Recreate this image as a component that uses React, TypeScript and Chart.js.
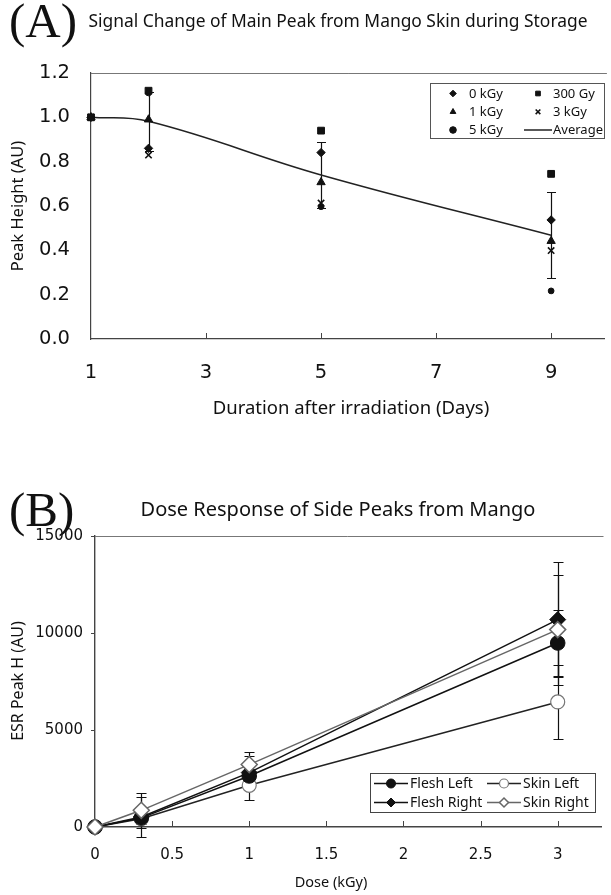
import React, { useEffect, useRef } from "react";
import { Chart, registerables } from "chart.js";
Chart.register(...registerables);

// ---------- Panel A data ----------
const daysA = [1, 2, 5, 9];
const dose0kGy = [1.0, 0.86, 0.841, 0.537];
const dose300Gy = [1.0, 1.12, 0.94, 0.745];
const dose1kGy = [1.0, 0.99, 0.707, 0.442];
const dose3kGy = [1.0, 0.83, 0.613, 0.399];
const dose5kGy = [1.0, 1.11, 0.597, 0.217];
const averageA = [1.0, 0.982, 0.74, 0.468];
const averageErrA = [0, 0.133, 0.148, 0.195];
const xTicksA = [1, 3, 5, 7, 9];
const yTicksA = [0, 0.2, 0.4, 0.6, 0.8, 1.0, 1.2];

// ---------- Panel B data ----------
const dosesB = [0, 0.3, 1, 3];
const fleshLeft = [0, 470, 2630, 9485];
const fleshLeftErr = [0, 200, 300, 1720];
const skinLeft = [0, 430, 2150, 6445];
const skinLeftErr = [0, 250, 740, 1888];
const fleshRight = [0, 515, 2805, 10690];
const fleshRightErr = [0, 1030, 840, 2970];
const skinRight = [0, 860, 3217, 10175];
const skinRightErr = [0, 890, 650, 2835];
const xTicksB = [0, 0.5, 1, 1.5, 2, 2.5, 3];
const yTicksB = [0, 5000, 10000, 15000];

const SANS = '"Noto Sans", sans-serif';
const NUM = '"DejaVu Sans", sans-serif';
const SERIF = '"Liberation Serif", "Times New Roman", serif';

const pts = (xs: number[], ys: number[]) => xs.map((x, i) => ({ x, y: ys[i] }));

type Txt = { text: string; x: number; y: number; font: string; align?: CanvasTextAlign; rot?: number; color?: string };

function textPlugin(items: Txt[]) {
  return {
    id: "texts",
    afterDraw(chart: any) {
      const ctx = chart.ctx;
      for (const t of items) {
        ctx.save();
        ctx.translate(t.x, t.y);
        if (t.rot) ctx.rotate(t.rot);
        ctx.font = t.font;
        ctx.fillStyle = t.color || "#111";
        ctx.textAlign = t.align || "center";
        ctx.textBaseline = "middle";
        ctx.fillText(t.text, 0, 0);
        ctx.restore();
      }
    },
  };
}

function framePlugin(o: { xTicks: number[]; xLen: number; yTicks: number[]; yLen: number; color: string; width: number; topColor: string }) {
  return {
    id: "frame",
    afterDraw(chart: any) {
      const { ctx, chartArea: a, scales } = chart;
      ctx.save();
      ctx.lineWidth = o.width;
      ctx.strokeStyle = o.topColor;
      ctx.beginPath();
      ctx.moveTo(a.left - o.yLen, Math.round(a.top) + 0.5);
      ctx.lineTo(a.right + 2, Math.round(a.top) + 0.5);
      ctx.stroke();
      ctx.strokeStyle = o.color;
      ctx.beginPath();
      for (const v of o.xTicks) {
        const px = Math.round(scales.x.getPixelForValue(v)) + 0.5;
        ctx.moveTo(px, a.bottom);
        ctx.lineTo(px, a.bottom - o.xLen);
      }
      for (const v of o.yTicks) {
        const py = Math.round(scales.y.getPixelForValue(v)) + 0.5;
        ctx.moveTo(a.left, py);
        ctx.lineTo(a.left - o.yLen, py);
      }
      ctx.stroke();
      ctx.restore();
    },
  };
}

function errorBarPlugin(bars: { index: number; errors: number[]; color: string; width: number; cap: number }[]) {
  return {
    id: "errbars",
    beforeDatasetsDraw(chart: any) {
      const ctx = chart.ctx;
      const ys = chart.scales.y;
      for (const b of bars) {
        const meta = chart.getDatasetMeta(b.index);
        const data = chart.data.datasets[b.index].data as any[];
        ctx.save();
        ctx.strokeStyle = b.color;
        ctx.lineWidth = b.width;
        ctx.beginPath();
        data.forEach((d, i) => {
          const e = b.errors[i];
          if (!e) return;
          const x = Math.round(meta.data[i].x) + 0.5;
          const t = Math.round(ys.getPixelForValue(d.y + e)) + 0.5;
          const bt = Math.round(ys.getPixelForValue(d.y - e)) + 0.5;
          ctx.moveTo(x, t);
          ctx.lineTo(x, bt);
          ctx.moveTo(x - b.cap, t);
          ctx.lineTo(x + b.cap, t);
          ctx.moveTo(x - b.cap, bt);
          ctx.lineTo(x + b.cap, bt);
        });
        ctx.stroke();
        ctx.restore();
      }
    },
  };
}

function drawMarker(ctx: CanvasRenderingContext2D, style: string, x: number, y: number, r: number, fill: string, stroke: string, lw: number) {
  ctx.save();
  ctx.fillStyle = fill;
  ctx.strokeStyle = stroke;
  ctx.lineWidth = lw;
  ctx.beginPath();
  if (style === "circle") {
    ctx.arc(x, y, r, 0, Math.PI * 2);
  } else if (style === "rectRot") {
    ctx.moveTo(x - r, y);
    ctx.lineTo(x, y - r);
    ctx.lineTo(x + r, y);
    ctx.lineTo(x, y + r);
    ctx.closePath();
  } else if (style === "rect") {
    const s = r * Math.SQRT1_2;
    ctx.rect(x - s, y - s, 2 * s, 2 * s);
  } else if (style === "triangle") {
    for (let k = 0; k < 3; k++) {
      const ang = (k * 2 * Math.PI) / 3;
      const px = x + Math.sin(ang) * r;
      const py = y - Math.cos(ang) * r;
      if (k === 0) ctx.moveTo(px, py);
      else ctx.lineTo(px, py);
    }
    ctx.closePath();
  } else if (style === "crossRot") {
    const s = r * Math.SQRT1_2;
    ctx.moveTo(x - s, y - s);
    ctx.lineTo(x + s, y + s);
    ctx.moveTo(x + s, y - s);
    ctx.lineTo(x - s, y + s);
    ctx.stroke();
    ctx.restore();
    return;
  }
  ctx.fill();
  if (lw > 0) ctx.stroke();
  ctx.restore();
}

function legendPlugin(o: {
  box: [number, number, number, number];
  order: number[];
  cols: number;
  rows: number[];
  markerX: number[];
  textX: number[];
  lineHalf: number;
  radius: number;
  font: string;
  boxColor: string;
}) {
  return {
    id: "boxLegend",
    afterDraw(chart: any) {
      const ctx = chart.ctx;
      ctx.save();
      ctx.fillStyle = "#fff";
      ctx.fillRect(o.box[0], o.box[1], o.box[2], o.box[3]);
      ctx.strokeStyle = o.boxColor;
      ctx.lineWidth = 1;
      ctx.strokeRect(o.box[0] + 0.5, o.box[1] + 0.5, o.box[2], o.box[3]);
      o.order.forEach((di, k) => {
        const ds: any = chart.data.datasets[di];
        const row = Math.floor(k / o.cols);
        const col = k % o.cols;
        const y = o.rows[row];
        const mx = o.markerX[col];
        if (ds.showLine !== false) {
          ctx.strokeStyle = ds.borderColor;
          ctx.lineWidth = ds.borderWidth || 1;
          ctx.beginPath();
          ctx.moveTo(mx - o.lineHalf, y);
          ctx.lineTo(mx + o.lineHalf, y);
          ctx.stroke();
        }
        if (ds.pointRadius > 0) {
          drawMarker(ctx, ds.pointStyle, mx, y, o.radius, ds.pointBackgroundColor, ds.pointBorderColor, ds.pointBorderWidth);
        }
        ctx.fillStyle = "#111";
        ctx.font = o.font;
        ctx.textAlign = "left";
        ctx.textBaseline = "middle";
        ctx.fillText(ds.label, o.textX[col], y + 0.5);
      });
      ctx.restore();
    },
  };
}

function markerSet(label: string, data: number[], style: string, r: number, bw = 1, order = 1) {
  return {
    label,
    data: pts(daysA, data),
    showLine: false,
    pointStyle: style,
    pointRadius: r,
    pointBackgroundColor: "#111",
    pointBorderColor: "#111",
    pointBorderWidth: bw,
    borderColor: "#111",
    clip: false,
    order,
  };
}

function ChartA() {
  const ref = useRef<HTMLCanvasElement>(null);
  useEffect(() => {
    const H = 440;
    const tickFont = { family: NUM, size: 19.5 };
    const chart = new Chart(ref.current!, {
      type: "line",
      data: {
        datasets: [
          markerSet("0 kGy", dose0kGy, "rectRot", 4.2),
          markerSet("300 Gy", dose300Gy, "rect", 4.8, 1, 0),
          markerSet("1 kGy", dose1kGy, "triangle", 4.8),
          markerSet("3 kGy", dose3kGy, "crossRot", 4.5, 1.6),
          markerSet("5 kGy", dose5kGy, "circle", 2.9),
          {
            label: "Average",
            data: pts(daysA, averageA),
            borderColor: "#222",
            borderWidth: 1.5,
            pointRadius: 0,
            tension: 0.4,
            fill: false,
            clip: false,
            order: 2,
          } as any,
        ],
      },
      options: {
        animation: false,
        responsive: false,
        maintainAspectRatio: false,
        devicePixelRatio: 1,
        layout: { padding: { top: 73, right: 1, left: 0, bottom: 0 } },
        plugins: { legend: { display: false }, tooltip: { enabled: false }, title: { display: false } },
        scales: {
          x: {
            type: "linear",
            min: 1,
            max: 9.935,
            afterFit: (s: any) => { s.height = H - 339; },
            afterBuildTicks: (s: any) => { s.ticks = xTicksA.map((v) => ({ value: v })); },
            grid: { display: false, drawTicks: false },
            border: { display: true, color: "#444", width: 1.2 },
            ticks: { font: tickFont, color: "#111", padding: 22, maxRotation: 0, autoSkip: false, callback: (v: any) => String(v) },
          },
          y: {
            type: "linear",
            min: 0,
            max: 1.2,
            afterFit: (s: any) => { s.width = 91; },
            afterBuildTicks: (s: any) => { s.ticks = yTicksA.map((v) => ({ value: v })); },
            grid: { display: false, drawTicks: false },
            border: { display: true, color: "#444", width: 1.2 },
            ticks: { font: tickFont, color: "#111", padding: 21, autoSkip: false, callback: (v: any) => Number(v).toFixed(1) },
          },
        },
      } as any,
      plugins: [
        errorBarPlugin([{ index: 5, errors: averageErrA, color: "#111", width: 1.2, cap: 4.5 }]),
        framePlugin({ xTicks: xTicksA.slice(1), xLen: 6, yTicks: [], yLen: 0, color: "#444", width: 1, topColor: "#777" }),
        legendPlugin({
          box: [430, 83, 174, 55],
          order: [0, 1, 2, 3, 4, 5],
          cols: 2,
          rows: [93.5, 111.8, 130],
          markerX: [453, 538],
          textX: [469, 553],
          lineHalf: 14,
          radius: 3.3,
          font: `13px ${SANS}`,
          boxColor: "#555",
        }),
        textPlugin([
          { text: "(A)", x: 9, y: 24, font: `49px ${SERIF}`, align: "left" },
          { text: "Signal Change of Main Peak from Mango Skin during Storage", x: 338, y: 22, font: `17.4px ${SANS}` },
          { text: "Peak Height (AU)", x: 18, y: 206, font: `16.5px ${SANS}`, rot: -Math.PI / 2 },
          { text: "Duration after irradiation (Days)", x: 351, y: 409, font: `18.5px ${SANS}` },
        ]),
      ],
    });
    return () => chart.destroy();
  }, []);
  return <canvas ref={ref} width={611} height={440} style={{ position: "absolute", left: 0, top: 0, width: 611, height: 440 }} />;
}

function ChartB() {
  const ref = useRef<HTMLCanvasElement>(null);
  useEffect(() => {
    const H = 455;
    const tickFont = { family: NUM, size: 15 };
    const line = (label: string, data: number[], style: string, r: number, fill: string, stroke: string, lineColor: string, order: number, pbw: number) => ({
      label,
      data: pts(dosesB, data),
      borderColor: lineColor,
      borderWidth: 1.5,
      pointStyle: style,
      pointRadius: r,
      pointBackgroundColor: fill,
      pointBorderColor: stroke,
      pointBorderWidth: pbw,
      tension: 0,
      fill: false,
      clip: false,
      order,
    });
    const chart = new Chart(ref.current!, {
      type: "line",
      data: {
        datasets: [
          line("Flesh Left", fleshLeft, "circle", 7.3, "#111", "#111", "#111", 2, 1),
          line("Skin Left", skinLeft, "circle", 7, "#fff", "#777", "#222", 3, 1.2),
          line("Flesh Right", fleshRight, "rectRot", 8, "#111", "#111", "#111", 1, 1),
          line("Skin Right", skinRight, "rectRot", 8, "#fff", "#666", "#666", 0, 1.5),
        ] as any,
      },
      options: {
        animation: false,
        responsive: false,
        maintainAspectRatio: false,
        devicePixelRatio: 1,
        layout: { padding: { top: 96, right: 1, left: 0, bottom: 0 } },
        plugins: { legend: { display: false }, tooltip: { enabled: false }, title: { display: false } },
        scales: {
          x: {
            type: "linear",
            min: 0,
            max: 3.284,
            afterFit: (s: any) => { s.height = H - 387; },
            afterBuildTicks: (s: any) => { s.ticks = xTicksB.map((v) => ({ value: v })); },
            grid: { display: false, drawTicks: false },
            border: { display: true, color: "#444", width: 1.4 },
            ticks: { font: tickFont, color: "#111", padding: 19, maxRotation: 0, autoSkip: false, callback: (v: any) => String(v) },
          },
          y: {
            type: "linear",
            min: 0,
            max: 15000,
            afterFit: (s: any) => { s.width = 95; },
            afterBuildTicks: (s: any) => { s.ticks = yTicksB.map((v) => ({ value: v })); },
            grid: { display: false, drawTicks: false },
            border: { display: true, color: "#444", width: 1.4 },
            ticks: { font: tickFont, color: "#111", padding: 12, autoSkip: false, callback: (v: any) => String(v) },
          },
        },
      } as any,
      plugins: [
        errorBarPlugin([
          { index: 1, errors: skinLeftErr, color: "#111", width: 1.2, cap: 5 },
          { index: 0, errors: fleshLeftErr, color: "#111", width: 1.2, cap: 5 },
          { index: 2, errors: fleshRightErr, color: "#111", width: 1.2, cap: 5 },
          { index: 3, errors: skinRightErr, color: "#111", width: 1.2, cap: 5 },
        ]),
        framePlugin({ xTicks: xTicksB.slice(1), xLen: 6, yTicks: yTicksB.slice(1), yLen: 4, color: "#444", width: 1, topColor: "#777" }),
        legendPlugin({
          box: [370, 333, 225, 39],
          order: [0, 1, 2, 3],
          cols: 2,
          rows: [343.5, 362.5],
          markerX: [391, 504],
          textX: [410, 523],
          lineHalf: 17,
          radius: 4.5,
          font: `14px ${SANS}`,
          boxColor: "#444",
        }),
        textPlugin([
          { text: "(B)", x: 9, y: 73, font: `49px ${SERIF}`, align: "left" },
          { text: "Dose Response of Side Peaks from Mango", x: 338, y: 70, font: `20px ${SANS}` },
          { text: "ESR Peak H (AU)", x: 18, y: 241, font: `16px ${SANS}`, rot: -Math.PI / 2 },
          { text: "Dose (kGy)", x: 331, y: 443, font: `14.5px ${SANS}` },
        ]),
      ],
    });
    return () => chart.destroy();
  }, []);
  return <canvas ref={ref} width={611} height={455} style={{ position: "absolute", left: 0, top: 440, width: 611, height: 455 }} />;
}

export default function App() {
  return (
    <div style={{ position: "absolute", left: 0, top: 0, width: 611, height: 895, background: "#fff", overflow: "hidden" }}>
      <ChartA />
      <ChartB />
    </div>
  );
}
